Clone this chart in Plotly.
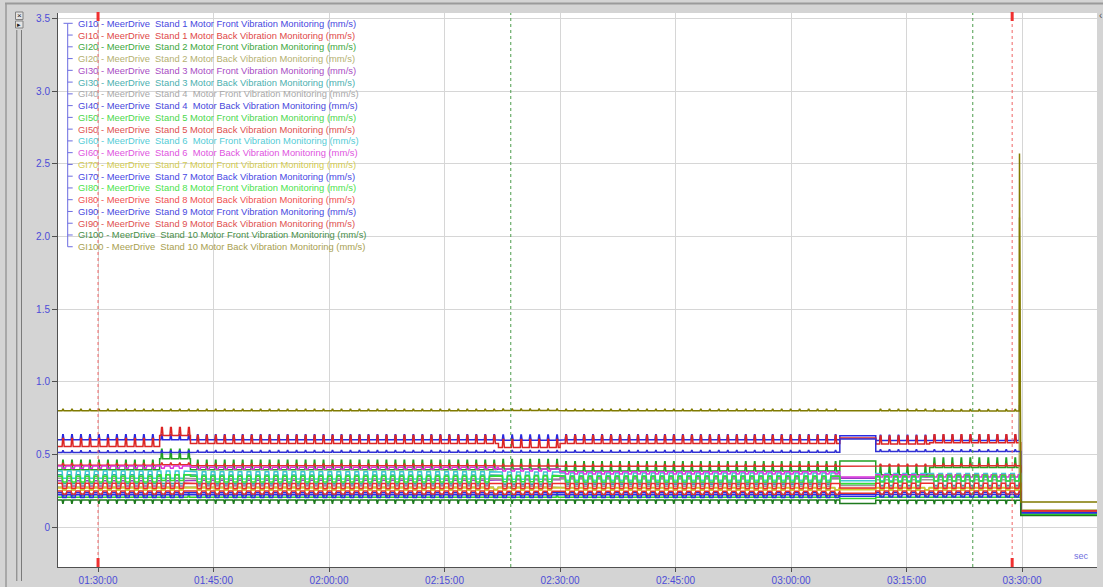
from datetime import datetime, timedelta
import plotly.graph_objects as go

DAY = "2024-03-01 "

# Level changes shared by all channels: each channel lists one level per epoch
EPOCH_STARTS = ["01:24:48", "01:38:00", "01:42:00", "02:22:00", "02:30:00",
                "03:06:20", "03:11:00", "03:18:00", "03:29:50"]
VIEW_END = "03:39:44"
TRIP_TIME = "03:29:40"

# Billet passes (short vibration bursts seen on every stand)
PASS_TIMES = [
    "01:25:20", "01:26:30", "01:27:40", "01:28:50", "01:30:00", "01:31:10", "01:32:20",
    "01:33:30", "01:34:40", "01:35:50", "01:37:00", "01:38:10", "01:39:20", "01:40:30",
    "01:41:40", "01:42:50", "01:44:00", "01:45:10", "01:46:20", "01:47:30", "01:48:40",
    "01:49:50", "01:51:00", "01:52:10", "01:53:20", "01:54:30", "01:55:40", "01:56:50",
    "01:58:00", "01:59:10", "02:00:20", "02:01:30", "02:02:40", "02:03:50", "02:05:00",
    "02:06:10", "02:07:20", "02:08:30", "02:09:40", "02:10:50", "02:12:00", "02:13:10",
    "02:14:20", "02:15:30", "02:16:40", "02:17:50", "02:19:00", "02:20:10", "02:21:20",
    "02:22:30", "02:23:40", "02:24:50", "02:26:00", "02:27:10", "02:28:20", "02:29:30",
    "02:30:40", "02:31:50", "02:33:00", "02:34:10", "02:35:20", "02:36:30", "02:37:40",
    "02:38:50", "02:40:00", "02:41:10", "02:42:20", "02:43:30", "02:44:40", "02:45:50",
    "02:47:00", "02:48:10", "02:49:20", "02:50:30", "02:51:40", "02:52:50", "02:54:00",
    "02:55:10", "02:56:20", "02:57:30", "02:58:40", "02:59:50", "03:01:00", "03:02:10",
    "03:03:20", "03:04:30", "03:05:40", "03:11:30", "03:12:40", "03:13:50", "03:15:00",
    "03:16:10", "03:17:20", "03:18:30", "03:19:40", "03:20:50", "03:22:00", "03:23:10",
    "03:24:20", "03:25:30", "03:26:40", "03:27:50", "03:29:00",
]

CHANNELS = [
    "GI10 - MeerDrive  Stand 1 Motor Front Vibration Monitoring (mm/s)",
    "GI10 - MeerDrive  Stand 1 Motor Back Vibration Monitoring (mm/s)",
    "GI20 - MeerDrive  Stand 2 Motor Front Vibration Monitoring (mm/s)",
    "GI20 - MeerDrive  Stand 2 Motor Back Vibration Monitoring (mm/s)",
    "GI30 - MeerDrive  Stand 3 Motor Front Vibration Monitoring (mm/s)",
    "GI30 - MeerDrive  Stand 3 Motor Back Vibration Monitoring (mm/s)",
    "GI40 - MeerDrive  Stand 4  Motor Front Vibration Monitoring (mm/s)",
    "GI40 - MeerDrive  Stand 4  Motor Back Vibration Monitoring (mm/s)",
    "GI50 - MeerDrive  Stand 5 Motor Front Vibration Monitoring (mm/s)",
    "GI50 - MeerDrive  Stand 5 Motor Back Vibration Monitoring (mm/s)",
    "GI60 - MeerDrive  Stand 6  Motor Front Vibration Monitoring (mm/s)",
    "GI60 - MeerDrive  Stand 6  Motor Back Vibration Monitoring (mm/s)",
    "GI70 - MeerDrive  Stand 7 Motor Front Vibration Monitoring (mm/s)",
    "GI70 - MeerDrive  Stand 7 Motor Back Vibration Monitoring (mm/s)",
    "GI80 - MeerDrive  Stand 8 Motor Front Vibration Monitoring (mm/s)",
    "GI80 - MeerDrive  Stand 8 Motor Back Vibration Monitoring (mm/s)",
    "GI90 - MeerDrive  Stand 9 Motor Front Vibration Monitoring (mm/s)",
    "GI90 - MeerDrive  Stand 9 Motor Back Vibration Monitoring (mm/s)",
    "GI100 - MeerDrive  Stand 10 Motor Front Vibration Monitoring (mm/s)",
    "GI100 - MeerDrive  Stand 10 Motor Back Vibration Monitoring (mm/s)",
]

# Levels (mm/s) per epoch
gi10_front = [0.600, 0.600, 0.600, 0.598, 0.600, 0.628, 0.596, 0.596, 0.100]
gi10_back = [0.555, 0.630, 0.575, 0.548, 0.575, 0.612, 0.572, 0.580, 0.112]
gi20_front = [0.395, 0.470, 0.395, 0.400, 0.385, 0.455, 0.360, 0.410, 0.088]
gi20_back = [0.275, 0.275, 0.275, 0.275, 0.272, 0.262, 0.272, 0.272, 0.118]
gi30_front = [0.318, 0.318, 0.322, 0.326, 0.338, 0.336, 0.352, 0.352, 0.098]
gi30_back = [0.360, 0.360, 0.358, 0.356, 0.352, 0.300, 0.345, 0.345, 0.096]
gi40_front = [0.335, 0.335, 0.333, 0.330, 0.330, 0.285, 0.325, 0.325, 0.094]
gi40_back = [0.513, 0.513, 0.515, 0.515, 0.515, 0.605, 0.520, 0.520, 0.102]
gi50_front = [0.205, 0.205, 0.205, 0.205, 0.205, 0.196, 0.205, 0.205, 0.086]
gi50_back = [0.425, 0.428, 0.422, 0.420, 0.418, 0.418, 0.420, 0.422, 0.112]
gi60_front = [0.385, 0.385, 0.380, 0.378, 0.372, 0.318, 0.368, 0.368, 0.098]
gi60_back = [0.420, 0.420, 0.412, 0.400, 0.380, 0.345, 0.360, 0.360, 0.100]
gi70_front = [0.268, 0.268, 0.268, 0.268, 0.268, 0.256, 0.268, 0.268, 0.108]
gi70_back = [0.222, 0.222, 0.222, 0.222, 0.222, 0.212, 0.224, 0.224, 0.096]
gi80_front = [0.350, 0.360, 0.350, 0.352, 0.350, 0.298, 0.350, 0.356, 0.086]
gi80_back = [0.302, 0.302, 0.300, 0.300, 0.300, 0.268, 0.302, 0.302, 0.112]
gi90_front = [0.236, 0.236, 0.236, 0.236, 0.236, 0.226, 0.238, 0.238, 0.100]
gi90_back = [0.248, 0.248, 0.248, 0.246, 0.246, 0.232, 0.248, 0.248, 0.110]
gi100_front = [0.186, 0.186, 0.186, 0.186, 0.186, 0.162, 0.184, 0.184, 0.080]
gi100_back = [0.800, 0.800, 0.800, 0.802, 0.800, 0.800, 0.800, 0.798, 0.172]

LEVELS = [gi10_front, gi10_back, gi20_front, gi20_back, gi30_front, gi30_back,
          gi40_front, gi40_back, gi50_front, gi50_back, gi60_front, gi60_back,
          gi70_front, gi70_back, gi80_front, gi80_back, gi90_front, gi90_back,
          gi100_front, gi100_back]

# Change of reading during a pass (mm/s) and how long it lasts (s)
PASS_DELTA = [0.035, 0.055, 0.065, -0.015, -0.035, -0.060, -0.050, 0.012, 0.025, 0.012,
              -0.050, -0.015, -0.015, -0.018, -0.040, -0.035, -0.015, -0.020, -0.022, 0.010]
PASS_HOLD = [4, 6, 4, 28, 30, 32, 30, 4, 4, 4, 32, 20, 24, 26, 30, 30, 24, 28, 3, 4]

# Peak reading at the trip just before the stop
TRIP_PEAK = [0.84, None, None, 2.13, None, None, None, None, None, None,
             None, None, None, None, None, None, None, None, None, 2.57]

COLORS = ["#2a2ae0", "#dc2424", "#22a022", "#b4b060", "#9c38c4", "#2ea4a4", "#9a9a9a",
          "#3030d4", "#2ed42e", "#e02c2c", "#3cc8d4", "#dc34dc", "#d4c82a", "#2c2ce6",
          "#34e034", "#f02c2c", "#2c2ce0", "#e03030", "#1e7a1e", "#807a00"]
TEXT_COLORS = ["#4848e0", "#e04848", "#40a840", "#b4b070", "#a84cc4", "#4cb0b0", "#a8a8a8",
               "#4848dc", "#4cd84c", "#e05050", "#54ccd6", "#e054e0", "#d4cc50", "#4848e4",
               "#4ce44c", "#f05050", "#4848e0", "#e05050", "#4a904a", "#a8a050"]

X_TICKS = ["01:30:00", "01:45:00", "02:00:00", "02:15:00", "02:30:00",
           "02:45:00", "03:00:00", "03:15:00", "03:30:00"]
Y_TICKS = [0, 0.5, 1.0, 1.5, 2.0, 2.5, 3.0, 3.5]
Y_TICK_TEXT = ["0", "0.5", "1.0", "1.5", "2.0", "2.5", "3.0", "3.5"]

CURSOR_RED = ["01:30:00", "03:28:43"]
CURSOR_GREEN = ["02:23:36", "03:23:36"]


def ts(hms):
    return datetime.strptime(DAY + hms, "%Y-%m-%d %H:%M:%S")


def channel_line(levels, delta, hold, peak):
    bounds = [ts(s) for s in EPOCH_STARTS] + [ts(VIEW_END)]
    passes = [ts(p) for p in PASS_TIMES]
    edge = timedelta(seconds=5)
    keep = timedelta(seconds=hold)
    xs, ys = [], []
    last = len(levels) - 1
    for i, lvl in enumerate(levels):
        a, b = bounds[i], bounds[i + 1]
        xs.append(a)
        ys.append(lvl)
        if i < last:
            for p in passes:
                if a <= p and p + 2 * edge + keep < b:
                    xs += [p, p + edge, p + edge + keep, p + 2 * edge + keep]
                    ys += [lvl, lvl + delta, lvl + delta, lvl]
        if i == last - 1 and peak is not None:
            trip = ts(TRIP_TIME)
            xs += [trip - timedelta(seconds=2), trip]
            ys += [lvl, peak]
        else:
            xs.append(b)
            ys.append(lvl)
    return xs, ys


fig = go.Figure()
for k in range(len(CHANNELS)):
    xs, ys = channel_line(LEVELS[k], PASS_DELTA[k], PASS_HOLD[k], TRIP_PEAK[k])
    fig.add_trace(go.Scatter(x=xs, y=ys, mode="lines", name=CHANNELS[k],
                             line=dict(color=COLORS[k], width=1.5),
                             hoverinfo="skip"))

# Pixel helpers for window decorations (plot area spans 58..1097 x 13..567)
L, R, T, B = 58, 1097, 13, 567


def px(x):
    return (x - L) / (R - L)


def py(y):
    return (B - y) / (B - T)


shapes = []
for c in CURSOR_RED:
    shapes.append(dict(type="line", xref="x", yref="paper", x0=ts(c), x1=ts(c), y0=0, y1=1,
                       line=dict(color="#f06464", width=1, dash="dot"), layer="above"))
    shapes.append(dict(type="line", xref="x", yref="paper", x0=ts(c), x1=ts(c),
                       y0=py(12), y1=py(21), line=dict(color="#f03030", width=3)))
    shapes.append(dict(type="line", xref="x", yref="paper", x0=ts(c), x1=ts(c),
                       y0=py(558), y1=py(567), line=dict(color="#f03030", width=3)))
for c in CURSOR_GREEN:
    shapes.append(dict(type="line", xref="x", yref="paper", x0=ts(c), x1=ts(c), y0=0, y1=1,
                       line=dict(color="#4c9c4c", width=1, dash="dot"), layer="above"))

# Legend tree
n = len(CHANNELS)
row_y = [23.3 + 11.76 * i for i in range(n)]
tree = "#6c6ce0"
shapes.append(dict(type="line", xref="paper", yref="paper", x0=px(67.7), x1=px(67.7),
                   y0=py(row_y[0]), y1=py(row_y[-1]), line=dict(color=tree, width=1)))
shapes.append(dict(type="line", xref="paper", yref="paper", x0=px(63.5), x1=px(67.7),
                   y0=py(row_y[0]), y1=py(row_y[0]), line=dict(color=tree, width=1)))
for yy in row_y:
    shapes.append(dict(type="line", xref="paper", yref="paper", x0=px(67.7), x1=px(72.7),
                       y0=py(yy), y1=py(yy), line=dict(color=tree, width=1)))

# Window frame and left scroll strip
frame = "#9a9a9a"
shapes += [
    dict(type="line", xref="paper", yref="paper", x0=px(5), x1=px(1103), y0=py(3.5), y1=py(3.5),
         line=dict(color=frame, width=2)),
    dict(type="line", xref="paper", yref="paper", x0=px(6), x1=px(6), y0=py(3), y1=py(587),
         line=dict(color=frame, width=1.5)),
    dict(type="line", xref="paper", yref="paper", x0=px(16.8), x1=px(16.8), y0=py(30), y1=py(581),
         line=dict(color="#7a7a7a", width=1)),
    dict(type="line", xref="paper", yref="paper", x0=px(21.5), x1=px(21.5), y0=py(30), y1=py(581),
         line=dict(color="#7a7a7a", width=1)),
    dict(type="rect", xref="paper", yref="paper", x0=px(15.5), x1=px(23), y0=py(12), y1=py(19.5),
         line=dict(color="#808080", width=1), fillcolor="#e4e4e4"),
    dict(type="rect", xref="paper", yref="paper", x0=px(15.5), x1=px(23), y0=py(21), y1=py(28),
         line=dict(color="#808080", width=1), fillcolor="#e4e4e4"),
]

font = "Liberation Sans, Arial, sans-serif"
annotations = []
for k in range(n):
    annotations.append(dict(xref="paper", yref="paper", x=px(76.2), y=py(row_y[k]),
                            text=CHANNELS[k].replace("  ", "\u00a0 "), showarrow=False,
                            xanchor="left", yanchor="middle",
                            font=dict(family=font, size=9.4, color=TEXT_COLORS[k])))
annotations += [
    dict(xref="paper", yref="paper", x=px(1081), y=py(555.5), text="sec", showarrow=False,
         xanchor="center", yanchor="middle", font=dict(family=font, size=9, color="#7070e0")),
    dict(xref="paper", yref="paper", x=px(19.2), y=py(15.7), text="×", showarrow=False,
         xanchor="center", yanchor="middle", font=dict(family=font, size=8, color="#202020")),
    dict(xref="paper", yref="paper", x=px(19.4), y=py(24.5), text="▸", showarrow=False,
         xanchor="center", yanchor="middle", font=dict(family=font, size=7, color="#202020")),
    dict(xref="paper", yref="paper", x=px(1100.5), y=py(15), text="‹", showarrow=False,
         xanchor="center", yanchor="middle", font=dict(family=font, size=10, color="#555555")),
]

tick_blue = "#4c4cd8"
fig.update_layout(
    width=1103, height=587,
    margin=dict(l=L, r=1103 - R, t=T, b=587 - B, autoexpand=False),
    paper_bgcolor="#d4d4d4", plot_bgcolor="#ffffff",
    showlegend=False,
    shapes=shapes, annotations=annotations,
    xaxis=dict(range=[ts("01:24:48"), ts(VIEW_END)], automargin=False,
               tickvals=[ts(t) for t in X_TICKS], ticktext=X_TICKS,
               showgrid=True, gridcolor="#d6d6d6", gridwidth=1, zeroline=False,
               showline=True, linecolor="#505050", linewidth=1,
               ticks="outside", ticklen=4, tickcolor="#505050",
               tickfont=dict(family=font, size=10, color=tick_blue)),
    yaxis=dict(range=[-0.275, 3.537], tickvals=Y_TICKS, ticktext=Y_TICK_TEXT, automargin=False,
               showgrid=True, gridcolor="#d6d6d6", gridwidth=1, zeroline=False,
               showline=True, linecolor="#505050", linewidth=1,
               ticks="outside", ticklen=5, tickcolor="#505050",
               tickfont=dict(family=font, size=10, color=tick_blue)),
)

fig.write_html("out.html")
